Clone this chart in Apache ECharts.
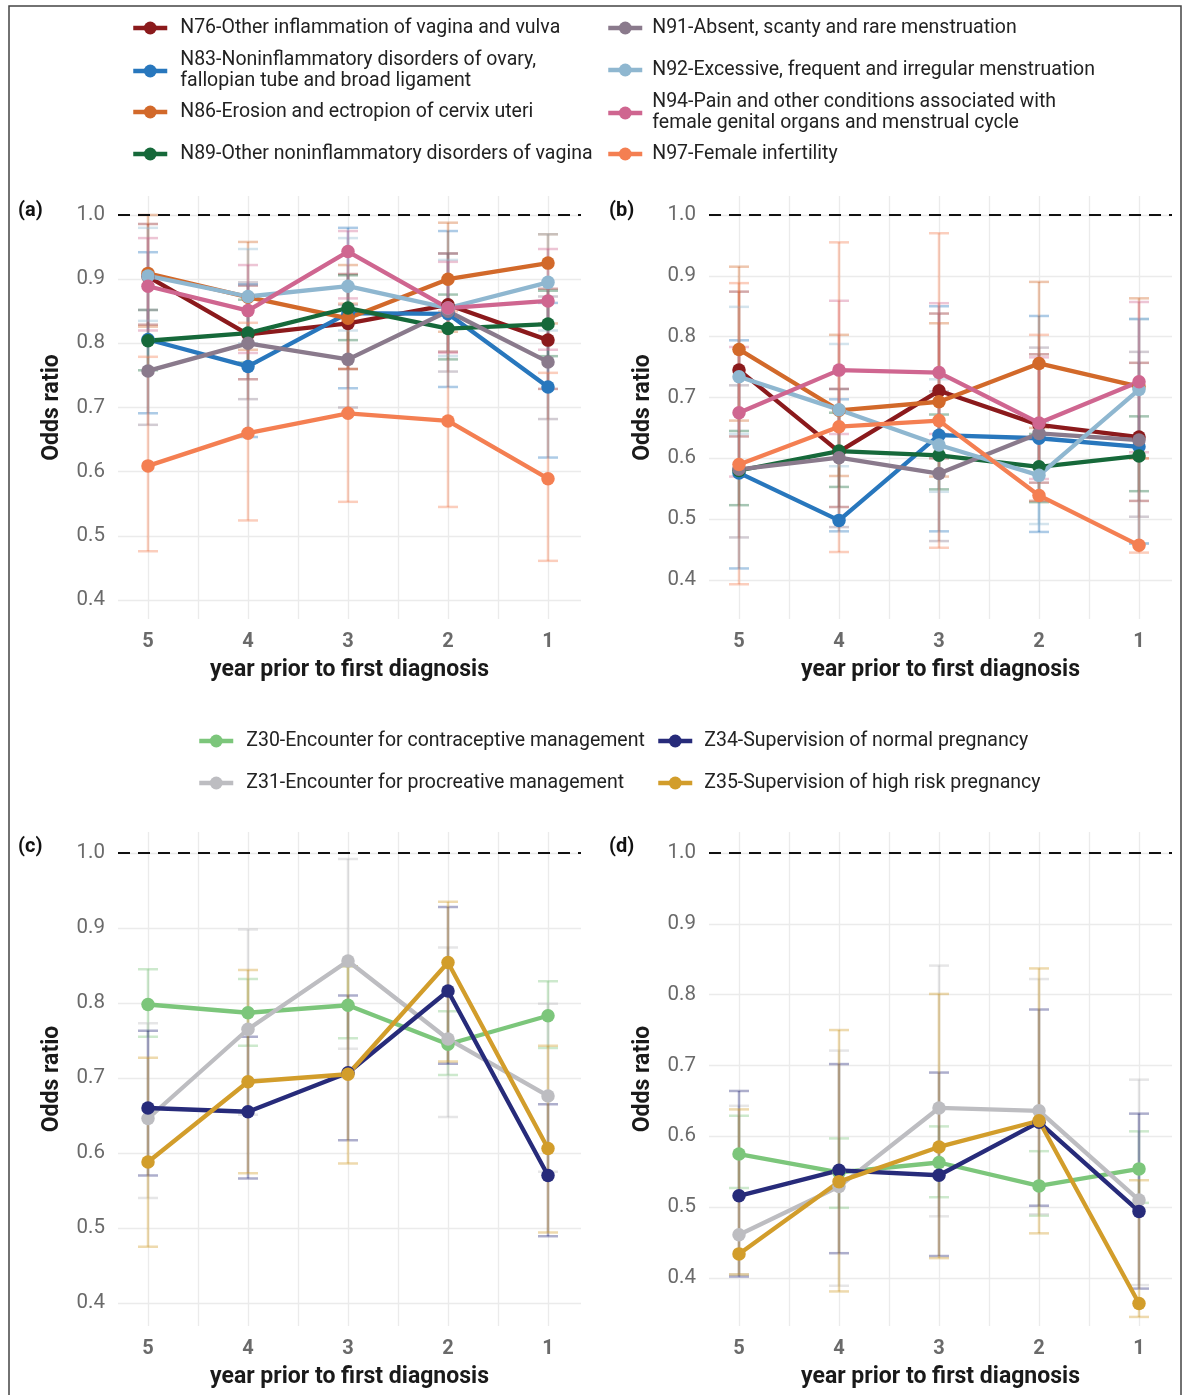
<!DOCTYPE html>
<html>
<head>
<meta charset="utf-8">
<script src="https://cdn.jsdelivr.net/npm/echarts@6/dist/echarts.min.js"></script>
<style>html,body{margin:0;background:#fff}#main{width:1186px;height:1395px}</style>
</head>
<body>
<div id="main"></div>
<script>
// x categories (year prior to first diagnosis)
const years = ['5', '4', '3', '2', '1'];

const nNames = [
  'N76-Other inflammation of vagina and vulva',
  'N83-Noninflammatory disorders of ovary, fallopian tube and broad ligament',
  'N86-Erosion and ectropion of cervix uteri',
  'N89-Other noninflammatory disorders of vagina',
  'N91-Absent, scanty and rare menstruation',
  'N92-Excessive, frequent and irregular menstruation',
  'N94-Pain and other conditions associated with female genital organs and menstrual cycle',
  'N97-Female infertility'
];
const nColors = ['#8b1a1c', '#2877bd', '#d2692a', '#16693a', '#8a7a8c', '#8fb7d0', '#cf6690', '#f47f52'];

const zNames = [
  'Z30-Encounter for contraceptive management',
  'Z31-Encounter for procreative management',
  'Z34-Supervision of normal pregnancy',
  'Z35-Supervision of high risk pregnancy'
];
const zColors = ['#7cc67b', '#bdbdc1', '#272b7a', '#d29d2b'];

// panel (a): odds ratio, lower, upper  (rows follow nNames, columns follow years)
const orA = [
  [0.904, 0.814, 0.831, 0.860, 0.805],
  [0.806, 0.764, 0.847, 0.846, 0.732],
  [0.909, 0.872, 0.839, 0.900, 0.925],
  [0.804, 0.816, 0.855, 0.823, 0.830],
  [0.757, 0.800, 0.775, 0.850, 0.771],
  [0.905, 0.873, 0.889, 0.855, 0.895],
  [0.889, 0.851, 0.943, 0.855, 0.866],
  [0.609, 0.660, 0.691, 0.679, 0.589]
];
const loA = [
  [0.829, 0.744, 0.760, 0.787, 0.729],
  [0.691, 0.654, 0.730, 0.732, 0.622],
  [0.826, 0.790, 0.760, 0.818, 0.831],
  [0.758, 0.770, 0.805, 0.775, 0.780],
  [0.673, 0.713, 0.700, 0.756, 0.682],
  [0.835, 0.800, 0.820, 0.780, 0.820],
  [0.820, 0.785, 0.870, 0.785, 0.790],
  [0.476, 0.524, 0.553, 0.545, 0.461]
];
const hiA = [
  [0.986, 0.890, 0.908, 0.940, 0.885],
  [0.942, 0.892, 0.980, 0.975, 0.863],
  [1.000, 0.958, 0.922, 0.988, 0.970],
  [0.852, 0.868, 0.906, 0.876, 0.882],
  [0.852, 0.895, 0.860, 0.940, 0.873],
  [0.980, 0.947, 0.964, 0.930, 0.970],
  [0.964, 0.922, 0.975, 0.927, 0.947],
  [0.779, 0.832, 0.862, 0.850, 0.754]
];

// panel (b)
const orB = [
  [0.745, 0.611, 0.711, 0.655, 0.635],
  [0.576, 0.498, 0.638, 0.633, 0.619],
  [0.779, 0.679, 0.693, 0.756, 0.718],
  [0.580, 0.612, 0.605, 0.586, 0.604],
  [0.582, 0.601, 0.575, 0.641, 0.630],
  [0.734, 0.680, 0.622, 0.572, 0.713],
  [0.675, 0.745, 0.741, 0.658, 0.726],
  [0.590, 0.652, 0.662, 0.539, 0.457]
];
const loB = [
  [0.636, 0.520, 0.600, 0.560, 0.530],
  [0.419, 0.480, 0.480, 0.479, 0.460],
  [0.662, 0.571, 0.570, 0.650, 0.600],
  [0.523, 0.553, 0.549, 0.528, 0.546],
  [0.470, 0.487, 0.464, 0.530, 0.504],
  [0.640, 0.587, 0.545, 0.492, 0.460],
  [0.570, 0.640, 0.640, 0.566, 0.610],
  [0.393, 0.446, 0.453, 0.530, 0.445]
];
const hiB = [
  [0.874, 0.714, 0.838, 0.771, 0.757],
  [0.794, 0.697, 0.850, 0.834, 0.829],
  [0.915, 0.803, 0.822, 0.890, 0.863],
  [0.645, 0.675, 0.672, 0.640, 0.669],
  [0.720, 0.714, 0.710, 0.782, 0.775],
  [0.849, 0.788, 0.730, 0.660, 0.829],
  [0.783, 0.859, 0.855, 0.766, 0.857],
  [0.888, 0.955, 0.970, 0.803, 0.600]
];

// panel (c): rows follow zNames
const orC = [
  [0.798, 0.787, 0.797, 0.745, 0.783],
  [0.646, 0.765, 0.856, 0.752, 0.676],
  [0.660, 0.655, 0.707, 0.816, 0.570],
  [0.588, 0.695, 0.705, 0.854, 0.606]
];
const loC = [
  [0.755, 0.743, 0.753, 0.704, 0.740],
  [0.540, 0.651, 0.739, 0.648, 0.575],
  [0.570, 0.566, 0.617, 0.719, 0.489],
  [0.475, 0.573, 0.586, 0.722, 0.494]
];
const hiC = [
  [0.845, 0.832, 0.849, 0.789, 0.829],
  [0.773, 0.898, 0.992, 0.874, 0.799],
  [0.763, 0.755, 0.810, 0.928, 0.665],
  [0.727, 0.844, 0.849, 0.935, 0.743]
];

// panel (d)
const orD = [
  [0.575, 0.549, 0.563, 0.530, 0.554],
  [0.461, 0.529, 0.640, 0.636, 0.510],
  [0.516, 0.552, 0.545, 0.620, 0.494],
  [0.434, 0.536, 0.585, 0.622, 0.364]
];
const loD = [
  [0.527, 0.499, 0.514, 0.488, 0.506],
  [0.405, 0.389, 0.487, 0.490, 0.390],
  [0.402, 0.435, 0.431, 0.502, 0.385],
  [0.405, 0.381, 0.428, 0.463, 0.345]
];
const hiD = [
  [0.629, 0.597, 0.614, 0.579, 0.607],
  [0.643, 0.721, 0.841, 0.822, 0.680],
  [0.664, 0.702, 0.690, 0.779, 0.632],
  [0.638, 0.750, 0.801, 0.837, 0.538]
];

const yTicks = [0.4, 0.5, 0.6, 0.7, 0.8, 0.9, 1.0];
const xTicks = [0, 0.5, 1, 1.5, 2, 2.5, 3, 3.5, 4];
const FONT = 'Roboto';

const panels = [
  { left: 118, top: 196, height: 423, ymin: 0.3704, ymax: 1.0296, label: '(a)' },
  { left: 709, top: 196, height: 423, ymin: 0.3359, ymax: 1.0312, label: '(b)' },
  { left: 118, top: 832, height: 494, ymin: 0.3693, ymax: 1.028, label: '(c)' },
  { left: 709, top: 832, height: 494, ymin: 0.3322, ymax: 1.0296, label: '(d)' }
];

const grid = [], xAxis = [], yAxis = [], series = [];
panels.forEach((p, idx) => {
  grid.push({ left: p.left, top: p.top, width: 463, height: p.height });
  xAxis.push({
    type: 'value', gridIndex: idx, min: -0.3, max: 4.33,
    name: 'year prior to first diagnosis', nameLocation: 'middle', nameGap: 40,
    nameTextStyle: { fontFamily: FONT, fontSize: 23, fontWeight: 'bold', color: '#1a1a1a' },
    axisLine: { show: false },
    axisTick: { show: false, customValues: xTicks },
    axisLabel: {
      customValues: [0, 1, 2, 3, 4], margin: 13,
      formatter: v => years[Math.round(v)],
      fontFamily: FONT, fontSize: 20, fontWeight: 'bold', color: '#6a6a6a'
    },
    splitLine: { show: true, lineStyle: { color: '#ebebeb', width: 1.3 } }
  });
  yAxis.push({
    type: 'value', gridIndex: idx, min: p.ymin, max: p.ymax,
    name: 'Odds ratio', nameLocation: 'middle', nameGap: 54, nameRotate: 90,
    nameTextStyle: { fontFamily: FONT, fontSize: 23, fontWeight: 'bold', color: '#1a1a1a' },
    axisLine: { show: false },
    axisTick: { show: false, customValues: yTicks },
    axisLabel: {
      customValues: yTicks, margin: 13,
      formatter: v => v.toFixed(1),
      fontFamily: FONT, fontSize: 20.5, color: '#6a6a6a'
    },
    splitLine: { show: true, lineStyle: { color: '#ebebeb', width: 1.3 } }
  });
});

function errBar(api, color) {
  const x = api.value(0);
  const a = api.coord([x, api.value(1)]);
  const b = api.coord([x, api.value(2)]);
  const w = 10;
  const style = { stroke: color, lineWidth: 2.5, opacity: 0.38 };
  return {
    type: 'group',
    children: [
      { type: 'line', shape: { x1: a[0], y1: a[1], x2: b[0], y2: b[1] }, style },
      { type: 'line', shape: { x1: a[0] - w, y1: a[1], x2: a[0] + w, y2: a[1] }, style },
      { type: 'line', shape: { x1: b[0] - w, y1: b[1], x2: b[0] + w, y2: b[1] }, style }
    ]
  };
}

function addPanel(idx, names, colors, or, lo, hi) {
  names.forEach((name, k) => {
    series.push({
      type: 'custom', name: name + ' CI', xAxisIndex: idx, yAxisIndex: idx,
      z: 1, silent: true, clip: false,
      data: years.map((y, i) => [i, lo[k][i], hi[k][i]]),
      encode: { x: 0, y: [1, 2] },
      renderItem: (params, api) => errBar(api, colors[k])
    });
  });
  names.forEach((name, k) => {
    const s = {
      type: 'line', name: name, xAxisIndex: idx, yAxisIndex: idx,
      z: 3, clip: false,
      data: years.map((y, i) => [i, or[k][i]]),
      symbol: 'circle', symbolSize: 13.5,
      lineStyle: { width: 4.3, color: colors[k] },
      itemStyle: { color: colors[k], opacity: 1 }
    };
    if (k === 0) {
      s.markLine = {
        silent: true, symbol: 'none', label: { show: false }, z: 2,
        lineStyle: { color: '#111', width: 2, type: [12, 8] },
        data: [{ yAxis: 1 }]
      };
    }
    series.push(s);
  });
}

addPanel(0, nNames, nColors, orA, loA, hiA);
addPanel(1, nNames, nColors, orB, loB, hiB);
addPanel(2, zNames, zColors, orC, loC, hiC);
addPanel(3, zNames, zColors, orD, loD, hiD);

// legend layout: one legend per entry
const nDisplay = [
  'N76-Other inflammation of vagina and vulva',
  'N83-Noninflammatory disorders of ovary,\nfallopian tube and broad ligament',
  'N86-Erosion and ectropion of cervix uteri',
  'N89-Other noninflammatory disorders of vagina',
  'N91-Absent, scanty and rare menstruation',
  'N92-Excessive, frequent and irregular menstruation',
  'N94-Pain and other conditions associated with\nfemale genital organs and menstrual cycle',
  'N97-Female infertility'
];
const nSlots = [
  [131, 28, 8], [131, 71, 8], [131, 112, 8], [131, 154, 8],
  [606, 28, 5], [606, 70, 5], [606, 113, 5], [606, 154, 5]
];
const zSlots = [[197, 741, 8], [197, 783, 8], [656, 741, 7], [656, 783, 7]];

const legend = [];
function addLegend(name, text, slot) {
  const lines = text.split('\n').length;
  legend.push({
    data: [name], left: slot[0], top: slot[1] - lines * 10.5, padding: 0,
    orient: 'vertical', itemWidth: 34, itemHeight: 16, selectedMode: false,
    lineStyle: { width: 4.5 },
    formatter: () => text,
    textStyle: {
      fontFamily: FONT, fontSize: 19.5, color: '#222', lineHeight: 21,
      padding: [0, 0, 0, slot[2]]
    }
  });
}
nNames.forEach((n, k) => addLegend(n, nDisplay[k], nSlots[k]));
zNames.forEach((n, k) => addLegend(n, n, zSlots[k]));

const graphic = [
  { type: 'rect', shape: { x: 9, y: 6, width: 1172, height: 1400 },
    style: { fill: 'none', stroke: '#444', lineWidth: 1.5 }, silent: true }
];
panels.forEach(p => {
  graphic.push({
    type: 'text', left: p.left === 118 ? 18 : 609, top: p.top + 5,
    style: { text: p.label, fontFamily: FONT, fontSize: 20, fontWeight: 'bold', fill: '#111' }
  });
});

const chart = echarts.init(document.getElementById('main'));
chart.setOption({
  animation: false,
  backgroundColor: '#fff',
  grid, xAxis, yAxis, series, legend, graphic
});
</script>
</body>
</html>
